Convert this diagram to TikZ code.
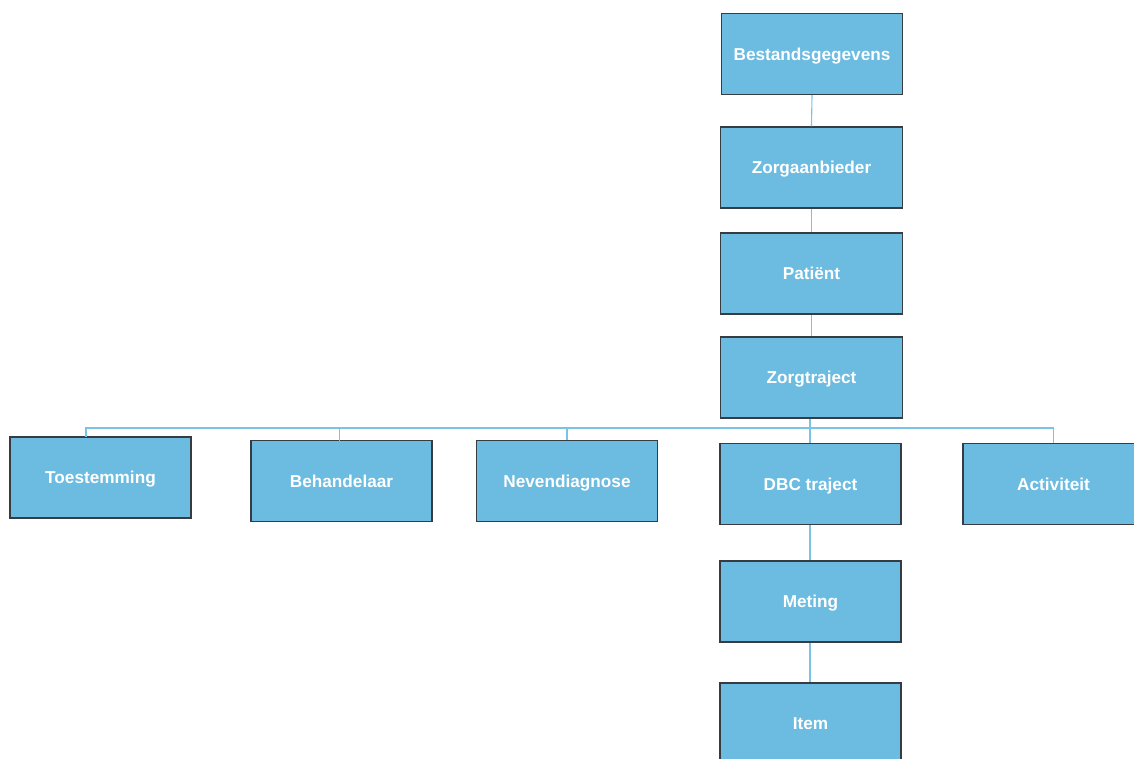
\documentclass[tikz,border=0pt]{standalone}
\usepackage{fontspec}
\setmainfont{Liberation Sans}
\definecolor{boxfill}{RGB}{108,187,224}
\definecolor{boxline}{RGB}{55,60,66}
\definecolor{connline}{RGB}{120,195,230}
\begin{document}
\begin{tikzpicture}[x=1pt,y=-1pt,
  entity/.style={draw=boxline,line width=1.2pt,fill=boxfill,minimum width=181pt,minimum height=81pt,inner sep=0pt,
    text height=12.3pt,text depth=0pt,
    font=\fontsize{17.2}{19}\selectfont\bfseries,text=white},
  conn/.style={draw=connline,line width=1.1pt}]
\useasboundingbox (0,0) rectangle (1134,758);
\clip (0,0) rectangle (1134,758);
% vertical chain
\node[entity] (bg) at (812,54) {Bestandsgegevens};
\node[entity,minimum width=182pt] (za) at (811.5,167.5) {Zorgaanbieder};
\node[entity,minimum width=182pt] (pa) at (811.5,273.5) {Patiënt};
\node[entity,minimum width=182pt] (zt) at (811.5,377.5) {Zorgtraject};
% second row
\node[entity] (toe) at (100.5,477.5) {Toestemming};
\node[entity] (beh) at (341.5,481) {Behandelaar};
\node[entity] (nev) at (567,481) {Nevendiagnose};
\node[entity] (dbc) at (810.5,484) {DBC traject};
\node[entity] (act) at (1053.5,484) {Activiteit};
% lower chain
\node[entity] (met) at (810.5,601.5) {Meting};
\node[entity] (item) at (810.5,723.5) {Item};
% connection points
\coordinate (bar) at (810,428);
\coordinate (toetop) at (86,437);
\coordinate (behtop) at (339.5,440.5);
% connectors
\draw[conn] (bg.south) -- (za.north);
\draw[conn] (za.south) -- (pa.north);
\draw[conn] (pa.south) -- (zt.north);
\draw[conn] (zt.south -| bar) -- (bar);
\draw[conn] (bar) -| (toetop);
\draw[conn] (bar) -| (behtop);
\draw[conn] (bar) -| (nev.north);
\draw[conn] (bar) -- (dbc.north -| bar);
\draw[conn] (bar) -| (act.north);
\draw[conn] (dbc.south -| bar) -- (met.north -| bar);
\draw[conn] (met.south -| bar) -- (item.north -| bar);
\end{tikzpicture}
\end{document}
